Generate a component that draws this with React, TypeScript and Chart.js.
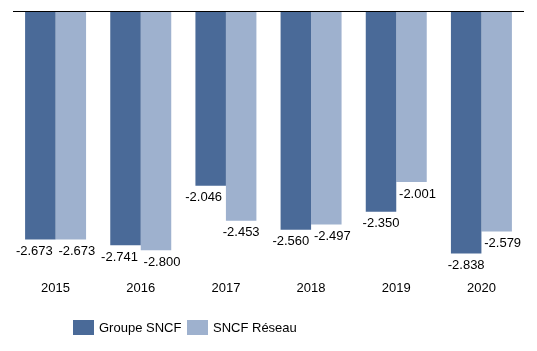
import React, { useEffect, useRef } from "react";
import { Chart, registerables } from "chart.js";

Chart.register(...registerables);

const years = ["2015", "2016", "2017", "2018", "2019", "2020"];
const groupeSNCF = [-2673, -2741, -2046, -2560, -2350, -2838];
const sncfReseau = [-2673, -2800, -2453, -2497, -2001, -2579];
const seriesNames = ["Groupe SNCF", "SNCF Réseau"];

const DARK = "rgb(74,106,152)";
const LIGHT = "rgb(158,177,206)";
const FONT = "'Liberation Sans', Arial, sans-serif";

function fmt(v: number): string {
  const a = Math.abs(v);
  const s = Math.floor(a / 1000) + "." + String(a % 1000).padStart(3, "0");
  return (v < 0 ? "-" : "") + s;
}

const labelShift = [
  [-6, -6, -7, -5, 0, 0],
  [6, 6, 0, 6, 6, 6],
];

const overlayPlugin = {
  id: "overlay",
  afterDatasetsDraw(chart: any) {
    const ctx = chart.ctx;
    const area = chart.chartArea;
    const yScale = chart.scales.y;
    ctx.save();
    // data labels
    ctx.font = `13px ${FONT}`;
    ctx.fillStyle = "#000";
    ctx.textAlign = "center";
    ctx.textBaseline = "middle";
    chart.data.datasets.forEach((ds: any, di: number) => {
      const meta = chart.getDatasetMeta(di);
      meta.data.forEach((el: any, i: number) => {
        ctx.fillText(fmt(ds.data[i]), el.x + labelShift[di][i], el.y + 12);
      });
    });
    // zero axis line
    const y0 = Math.round(yScale.getPixelForValue(0)) + 0.5;
    ctx.strokeStyle = "#000";
    ctx.lineWidth = 1.2;
    ctx.beginPath();
    ctx.moveTo(area.left, y0);
    ctx.lineTo(area.right, y0);
    ctx.stroke();
    // legend
    const colors = [DARK, LIGHT];
    const lx = [73, 187];
    const ly = 320;
    ctx.textAlign = "left";
    ctx.textBaseline = "middle";
    seriesNames.forEach((name, i) => {
      ctx.fillStyle = colors[i];
      ctx.fillRect(lx[i], ly, 21, 15);
      ctx.fillStyle = "#000";
      ctx.fillText(name, lx[i] + 26, ly + 8);
    });
    ctx.restore();
  },
};

export default function App() {
  const ref = useRef<HTMLCanvasElement | null>(null);
  useEffect(() => {
    if (!ref.current) return;
    const chart = new Chart(ref.current, {
      type: "bar",
      data: {
        labels: years,
        datasets: [
          { label: seriesNames[0], data: groupeSNCF, backgroundColor: DARK, borderWidth: 0 },
          { label: seriesNames[1], data: sncfReseau, backgroundColor: LIGHT, borderWidth: 0 },
        ],
      },
      options: {
        animation: false,
        responsive: true,
        maintainAspectRatio: false,
        datasets: { bar: { categoryPercentage: 0.716, barPercentage: 1 } },
        layout: { padding: { left: 13, right: 13, top: 11, bottom: 42 } },
        plugins: { legend: { display: false }, tooltip: { enabled: false } },
        scales: {
          y: { display: false, min: -3000, max: 0 },
          x: {
            grid: { display: false, drawTicks: false },
            border: { display: false },
            ticks: { padding: 13, color: "#000", font: { family: FONT, size: 13 } },
          },
        },
      },
      plugins: [overlayPlugin],
    });
    return () => chart.destroy();
  }, []);
  return (
    <div style={{ position: "fixed", left: 0, top: 0, width: 537, height: 351, background: "#fff" }}>
      <canvas ref={ref} />
    </div>
  );
}
